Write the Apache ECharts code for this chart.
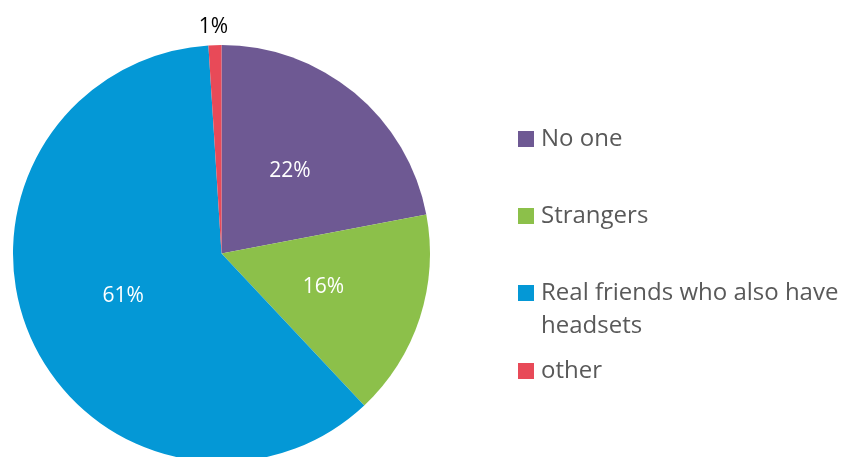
<!DOCTYPE html>
<html>
<head>
<meta charset="utf-8">
<script src="https://cdn.jsdelivr.net/npm/echarts@6/dist/echarts.min.js"></script>
<style>
  html, body { margin: 0; padding: 0; background: #ffffff; }
  #chart { width: 857px; height: 457px; }
</style>
</head>
<body>
<div id="chart"></div>
<script>
// Who people play with in VR
const categories = ['No one', 'Strangers', 'Real friends who also have\nheadsets', 'other'];
const shares = [22, 16, 61, 1];
const colors = ['#6E5993', '#8CC04A', '#0498D6', '#E84A58'];

const FONT = '"Open Sans", Lato, sans-serif';
const OUTSIDE_INDEX = categories.length - 1;

const data = categories.map((name, i) => {
  const item = { name: name, value: shares[i], itemStyle: { color: colors[i] } };
  if (i === OUTSIDE_INDEX) {
    // the thin slice carries its label outside the pie
    item.label = {
      position: 'outside',
      color: '#000000',
      fontSize: 21
    };
    item.labelLine = { show: false, length: 18, length2: 0 };
  }
  return item;
});

// one legend block per entry so each sits on its own row
const legendCenters = [139, 216, 293, 371];
const legends = categories.map((name, i) => {
  const twoLine = name.indexOf('\n') >= 0;
  return {
    data: [name],
    orient: 'vertical',
    left: 518,
    top: legendCenters[i] - (twoLine ? 49.5 : 16.5),
    padding: 0,
    icon: 'rect',
    itemWidth: 16,
    itemHeight: 16,
    selectedMode: false,
    // a leading empty line keeps the first text line level with the swatch
    formatter: n => (n.indexOf('\n') >= 0 ? '\n' + n : n),
    textStyle: {
      color: '#595959',
      fontFamily: FONT,
      fontSize: 24,
      lineHeight: 33,
      padding: [0, 0, 0, 2]
    }
  };
});

const chart = echarts.init(document.getElementById('chart'), null, { renderer: 'canvas' });
chart.setOption({
  backgroundColor: '#ffffff',
  animation: false,
  legend: legends,
  series: [{
    type: 'pie',
    center: [221.5, 253.5],
    radius: 208.5,
    startAngle: 90,
    clockwise: true,
    avoidLabelOverlap: false,
    itemStyle: { borderWidth: 0 },
    label: {
      show: true,
      position: 'inside',
      formatter: '{c}%',
      color: '#ffffff',
      fontFamily: FONT,
      fontSize: 21
    },
    labelLine: { show: false },
    labelLayout: params => (params.dataIndex === OUTSIDE_INDEX ? { align: 'center', dx: 4 } : {}),
    emphasis: { disabled: true },
    data: data
  }]
});
</script>
</body>
</html>
